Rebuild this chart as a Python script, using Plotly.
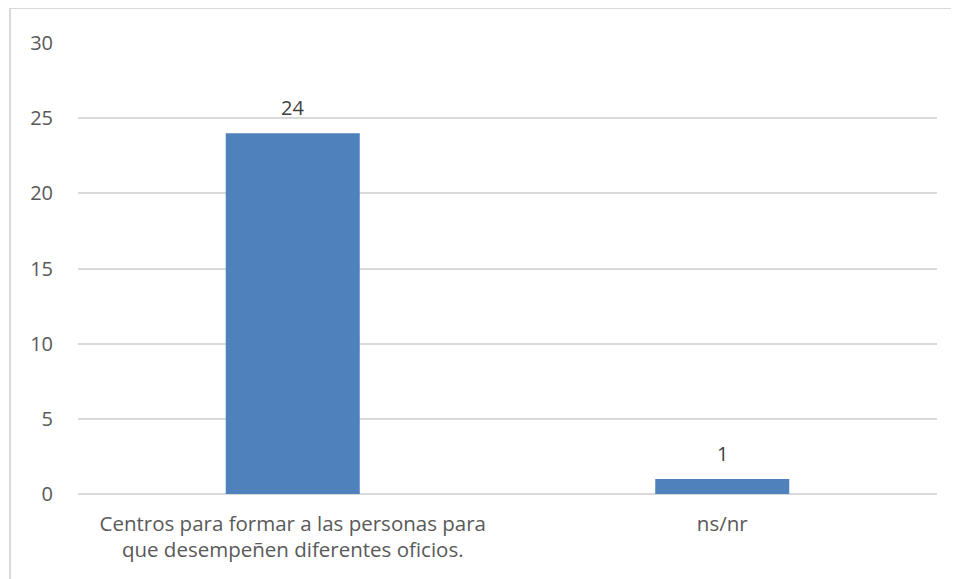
import plotly.graph_objects as go

categories = ["Centros para formar a las personas para<br>que desempeñen diferentes oficios.", "ns/nr"]
values = [24, 1]
tick_vals = [0, 5, 10, 15, 20, 25, 30]

# page body has an 8px margin; compensate so the plot lands where the reference's does
OFF = 8
W, H = 959 - OFF, 579 - OFF
ml, mr, mt, mb = 78 - OFF, 22, 43 - OFF, 85
pw, ph = W - ml - mr, H - mt - mb

FONT = "Open Sans, Liberation Sans, sans-serif"

fig = go.Figure(go.Bar(
    x=categories, y=values,
    marker=dict(color="#4F81BD", line=dict(color="#4F81BD", width=0)),
    hoverinfo="x+y",
))

for c, v in zip(categories, values):
    fig.add_annotation(x=c, y=v, text=str(v), showarrow=False, yanchor="bottom",
                       yshift=10, font=dict(size=20, color="#404040", family=FONT))

fig.update_layout(
    width=W, height=H,
    margin=dict(l=ml, r=mr, t=mt, b=mb),
    paper_bgcolor="white", plot_bgcolor="white",
    bargap=0.688,
    showlegend=False,
    font=dict(family=FONT, color="#595959", size=20),
    xaxis=dict(showline=False, showgrid=False, ticks="", ticklabelstandoff=15,
               tickfont=dict(size=20.5, color="#595959")),
    yaxis=dict(range=[0, 30], tickvals=tick_vals, showgrid=True, gridcolor="#D9D9D9", gridwidth=2,
               zeroline=True, zerolinecolor="#D9D9D9", zerolinewidth=2, ticks="",
               ticklabelstandoff=24, tickfont=dict(size=20, color="#595959")),
    shapes=[
        dict(type="line", xref="paper", yref="paper",
             x0=(10 - 78) / pw, x1=(W - ml) / pw + 0.02, y0=1 + (43 - 8) / ph, y1=1 + (43 - 8) / ph,
             line=dict(color="#D9D9D9", width=2)),
        dict(type="line", xref="paper", yref="paper",
             x0=(10 - 78) / pw, x1=(10 - 78) / pw, y0=1 + (43 - 8) / ph, y1=-mb / ph - 0.02,
             line=dict(color="#D9D9D9", width=2)),
    ],
)

fig.write_html("out.html")
